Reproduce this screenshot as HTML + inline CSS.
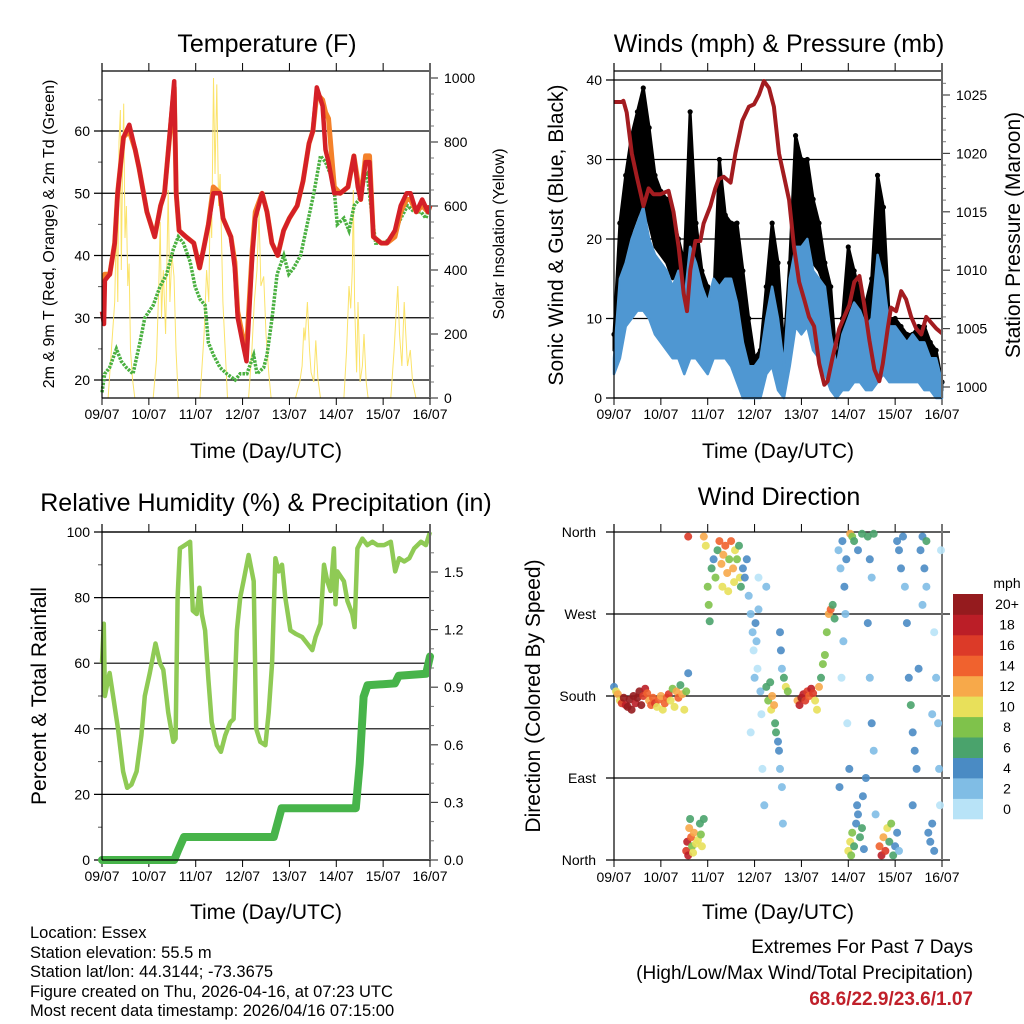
<!DOCTYPE html>
<html><head><meta charset="utf-8"><style>
body{margin:0;background:#fff;width:1024px;height:1024px;overflow:hidden}
svg{display:block;font-family:"Liberation Sans",sans-serif}
.nar{font-family:"Liberation Sans Narrow","Liberation Sans",sans-serif}
</style></head><body>
<svg id="s" width="1024" height="1024" viewBox="0 0 1024 1024">
<g class="nar" font-size="16.5" fill="#000">
<text x="30" y="938">Location: Essex</text>
<text x="30" y="958">Station elevation: 55.5 m</text>
<text x="30" y="977">Station lat/lon: 44.3144; -73.3675</text>
<text x="30" y="997">Figure created on Thu, 2026-04-16, at 07:23 UTC</text>
<text x="30" y="1016">Most recent data timestamp: 2026/04/16 07:15:00</text>
</g>
<g class="nar" text-anchor="end">
<text x="973" y="953" font-size="19">Extremes For Past 7 Days</text>
<text x="973" y="979" font-size="19">(High/Low/Max Wind/Total Precipitation)</text>
<text x="973" y="1005" font-size="19" font-weight="bold" fill="#c0202a">68.6/22.9/23.6/1.07</text>
</g>
</svg>
<script>
// ---------- Temperature panel data ----------
const redHours=[0,1,1.5,4,6.5,8,11,14,17,19,23,27,30,32,34,37,38,39.5,43,47,50,52,54.5,57,60.5,62,66,68,69.5,72,74,77,78.5,82,84.5,87,90,93,96,100,103,106,108,110,113,114.5,116,119,122,126,129,131,132.5,135,137,139,143,146,150,153,156,158,161,164,167,168];
const redTemps=[31,29,36,37,42,50,59,61,57,54,47,43,48,50,57,68,50,44,43,42,38,41,45,50,50,46,43,38,30,26,23,40,46,50,47,42,40,44,46,48,52,58,60,67,64,57,55,50,50,51,56,51,49,55,55,43,42,42,44,48,50,50,47,49,47,48];
const orangeTemps=[36,36,37,37,42,50,59,60,57,54,47,43,48,50,57,67,50,44,43,42,38,41,45,51,50,46,43,39,31,27,25,41,47,50,47,42,40,44,46,48,52,58,60,66,65,63,62,51,50,51,56,52,49,56,56,43,42,42,43,47,49,49,47,48,47,48];
const dewHours=[0,1.4,3.9,7.4,9.9,12.5,15.9,19.4,21.9,26.2,29.7,33.1,36.5,39.1,41.7,45.1,47.7,50.2,52.8,54.5,57.1,60.5,63.9,68.2,70.8,74.2,77.7,79.4,82.8,84.5,87.1,89.7,93.1,95.7,98.2,101.7,105.1,108.5,111.9,114.5,117.1,118.8,120.5,123.9,126.5,129.1,131.7,134.2,135.9,137.7,140.2,144.5,148.8,153.1,156.5,159.9,163.4,165.9,168];
const dewTemps=[18,21,22,25,23,22,21,26,30,32,35,37,41,43,42,39,35,33,32,26,24,22,21,20,21,21,24,21,22,24,30,37,40,37,38,40,45,50,56,55,53,51,45,46,44,48,49,52,53,48,42,42,43,46,48,47,47,46,48];
const solarHours=[0,3.1,4.8,6.5,7.4,8.1,8.7,9.4,9.9,10.5,11.1,11.8,12.5,13.2,13.9,14.6,15.6,16.8,26.2,27.9,29.1,29.8,30.5,31.4,32.6,33.9,34.8,35.8,36.9,37.9,39.1,50.2,52.3,53.6,54.7,55.4,56.2,57.1,57.9,58.8,59.7,60.5,61.9,63.1,64.3,75.1,76.8,78.0,79.4,80.4,81.4,82.8,84.0,85.4,86.6,99.1,101.3,102.5,103.4,104.0,105.2,106.3,107.1,108.5,109.5,110.6,111.9,123.9,125.3,126.5,127.4,128.2,128.7,129.4,130.4,131.1,132.2,133.4,134.2,135.3,136.3,147.9,149.6,150.8,151.5,152.4,153.6,154.8,155.6,156.5,157.9,159.1,160.8,168];
const solarValues=[0,0,150,300,550,300,800,900,400,700,920,500,600,350,420,150,60,0,0,120,350,550,250,400,200,650,300,450,380,150,0,0,200,400,300,620,500,1000,700,980,600,700,300,150,0,0,150,300,400,580,350,380,200,80,0,0,50,100,220,180,300,150,80,50,180,60,0,0,150,350,280,400,650,300,80,300,50,100,200,50,0,0,150,280,350,200,100,300,200,100,150,50,0,0];
const tempTicks=[20,30,40,50,60];
const solarTicks=[0,200,400,600,800,1000];
const dayLabels=["09/07","10/07","11/07","12/07","13/07","14/07","15/07","16/07"];
// ---------- Wind panel data ----------
const windHours=[0,3,6,9,12,15,18,21,24,27,30,33,36,39,42,45,48,51,54,57,60,63,66,69,72,75,78,81,84,87,90,93,96,99,102,105,108,111,114,117,120,123,126,129,132,135,138,141,144,147,150,153,156,159,162,165,168];
const windHigh=[5,15,17,20,22,24,20,18,17,16,14,16,12,19,17,14,12,15,14,15,15,12,7,4,4,5,10,14,10,4,15,19,19,20,16,15,14,8,4,8,10,12,11,9,10,18,15,9,9,8,7,8,7,7,5,5,2];
const windLow=[3,5,9,10,11,11,10,8,7,6,5,5,3,5,5,4,3,5,5,5,4,2,0,0,0,0,3,4,1,0,4,9,8,9,6,5,3,1,0,1,1,2,2,1,1,2,3,2,2,2,2,2,2,1,1,0,0];
const gustHigh=[8,22,28,33,36,39,34,28,26,25,23,20,17,36,22,16,14,12,30,23,22,22,16,10,5,6,14,22,17,6,17,33,30,30,25,22,17,14,4,10,19,16,13,12,15,28,24,10,10,9,8,8,9,9,7,6,2];
const gustLow=[6,14,18,21,23,24,22,19,18,17,15,16,14,18,16,14,12,14,14,15,15,12,6,3,3,4,9,14,11,4,14,19,19,20,17,16,14,8,3,6,9,11,10,9,9,17,15,9,8,7,6,7,6,6,5,4,1];
const presHours=[0,3.9,4.8,6.5,9.1,11.7,15.1,17.7,20.2,23.7,27.9,30.5,33.1,35.7,37.4,39.1,41.7,44.2,45.9,49.4,51.9,53.7,56.2,59.7,62.2,65.7,69.1,71.7,74.2,76.8,79.4,81.9,84.5,87.1,89.7,92.2,94.8,97.4,99.9,102.5,105.1,107.7,109.4,111.9,115.4,117.9,120.5,123.1,125.7,128.2,130.8,133.4,135.9,137.7,140.2,141.9,144.5,147.1,149.6,152.2,154.8,157.4,159.9,162.5,165.1,168];
const presValues=[1024.4,1024.4,1024.5,1023.5,1020,1018,1015.5,1017,1016.5,1016.5,1016.8,1015,1012,1008,1006.5,1010,1012.5,1012.5,1014,1015.5,1017,1017.8,1018,1017.5,1020,1022.8,1024,1024.2,1025,1026.2,1025.6,1024,1020,1018,1016,1012,1009,1007.5,1006,1005.2,1002,1000.2,1000.5,1002.5,1005,1006,1007,1009,1009.5,1007,1004,1001.5,1000.5,1002,1005,1006.8,1006.5,1008.2,1007.5,1006,1005,1004.5,1006,1005.5,1005,1004.6];
const windTicks=[0,10,20,30,40];
const presTicks=[1000,1005,1010,1015,1020,1025];
// ---------- RH panel data ----------
const rhHours=[0,0.9,1.5,3.1,3.9,5.7,8.2,10.8,12.9,15.1,17.7,20.2,21.9,24.5,27.4,29.7,31.4,33.9,36.5,37.7,38.7,39.9,42.5,45.1,46.5,48.5,49.9,51.1,52.8,54.5,56.2,58.8,60.9,63.1,65.7,67.4,69.1,70.8,72.5,75.1,77.7,79.0,81.1,83.7,85.4,87.1,88.8,90.5,92.2,93.9,96.5,99.1,102.5,105.1,107.7,109.4,111.9,113.7,115.4,117.1,118.8,119.6,120.5,123.9,125.7,128.2,129.4,130.8,133.4,135.9,138.5,141.1,144.5,147.9,150.2,152.2,154.8,157.4,159.9,163.4,165.9,168];
const rhValues=[60,72,50,55,57,50,40,27,22,23,27,38,50,57,66,60,58,45,36,37,80,95,96,97,76,75,83,75,70,55,42,35,33,38,42,43,70,80,85,93,85,40,36,35,45,60,92,88,90,80,70,69,68,66,64,68,72,90,85,82,95,78,88,85,79,75,71,95,98,96,97,96,96,97,88,92,91,92,95,97,96,100];
const rainHours=[0,37,39,42,88,92,130,132,134,136,150,152,166,168];
const rainValues=[0,0,0.05,0.12,0.12,0.27,0.27,0.5,0.85,0.91,0.92,0.96,0.97,1.06];
const rhTicks=[0,20,40,60,80,100];
const rainTicks=[0,0.3,0.6,0.9,1.2,1.5];
// ---------- Wind direction panel data ----------
const dirHours=[0,1,2,3,4,5,6,7,8,9,10,11,12,13,14,15,16,17,18,19,20,21,22,23,24,25,26,27,28,29,30,31,32,33,34,35,36,37,38,
37,37.5,38,38.5,39,39.5,40,40.5,41,42,43,44,45,46,44.5,38,
46,47,48,48.5,49,50,51,52,53,54,55,55.5,56,57,58,58.5,59,60,61,61.5,62,63,64,64.5,65,66,67,68,69,
70,71,71.5,72,72.5,73,73.5,74,75,75.5,76,77,78,70,74,
78,79,80,80.5,81,82,82.5,83,84,84.5,85,86,86.5,87,88,89,85,85.5,86,
94,95,96,97,98,99,100,101,102,103,104,105,106,107,108,109,110,111,112,113,
120,121,121.5,122,123,124,124.5,125,126,127,127.5,128,
115,116,117,118,119,118.5,117.5,116.5,119.5,120.5,115.5,
121,122,123,125,127,130,133,131,132,130,131,132,133,129,134,
136,137,138,139,140,141,142,143,144,145,146,
145,146,147,148,149,150,151,152,153,154,155,153,156,157,158,159,160,161,162,163,164,160,164,165,166,166.5,167,167.5,163,158];
const dirDegrees=[190,185,182,175,172,178,170,168,176,165,180,172,178,185,170,180,188,183,175,170,178,172,168,176,180,165,172,178,182,175,188,168,185,178,192,182,165,185,205,
10,20,5,35,45,25,15,8,30,18,22,40,15,45,28,355,
355,345,300,280,262,320,330,310,340,350,325,300,335,345,315,295,330,350,320,305,340,330,345,310,300,320,310,330,290,
270,250,230,200,260,240,210,275,185,160,100,60,300,140,310,
190,175,195,165,180,170,150,140,130,120,100,80,40,200,190,185,250,230,210,
175,170,178,182,175,185,180,188,183,175,165,190,200,215,225,250,270,275,280,265,
10,20,5,30,15,40,60,50,25,35,70,12,
340,320,350,300,330,270,240,200,150,100,80,
358,355,350,340,358,355,358,330,310,260,200,150,120,90,50,
15,5,25,10,35,20,40,5,15,30,10,
350,340,320,355,300,260,200,170,140,120,100,60,210,340,355,320,350,30,20,40,10,300,250,200,150,100,60,340,160,280];
const dirSpeeds=[4,10,12,10,16,20,18,20,20,20,20,18,20,20,20,16,18,14,12,14,14,16,10,14,12,10,14,14,16,10,8,10,12,14,6,12,10,8,4,
16,18,18,12,6,14,8,10,12,10,10,6,10,6,8,16,
12,10,8,8,6,6,4,8,6,14,12,10,12,14,12,10,8,14,12,10,10,8,6,10,6,4,4,4,2,
2,2,0,2,4,2,0,2,2,0,0,2,2,0,0,
6,8,6,10,12,12,6,6,4,4,2,2,2,6,10,8,4,4,2,
12,18,20,18,16,16,14,18,16,10,10,12,6,8,8,8,12,14,6,6,
10,10,8,8,6,4,4,4,6,6,4,4,
2,2,4,4,4,2,2,0,0,4,4,
12,8,6,4,6,6,6,4,2,4,2,4,2,4,2,
14,18,12,16,10,6,8,6,4,4,2,
4,4,4,4,2,4,4,6,4,4,4,4,4,4,4,4,6,4,4,4,4,2,0,2,2,2,0,0,2,2];
const dirTicks=["North","East","South","West","North"];
const speedLabels=["0","2","4","6","8","10","12","14","16","18","20+"];
const speedColors=["#b8e3f7","#80bde5","#4a8bc4","#4aa36c","#7fc24b","#e8e05a","#f7a94a","#f0622e","#dc3a28","#bb1e27","#951b1e"];

const svg=document.getElementById('s');
const NS='http://www.w3.org/2000/svg';
function mk(tag,attrs,parent){const e=document.createElementNS(NS,tag);for(const k in attrs)e.setAttribute(k,attrs[k]);(parent||svg).appendChild(e);return e;}
function txt(s,attrs,parent){const e=mk('text',attrs,parent);e.textContent=s;return e;}
function xScale(x0){return h=>x0+h/168*328;}
function pathOf(xs,ys,fx,fy){let d='';for(let i=0;i<xs.length;i++)d+=(i?'L':'M')+fx(xs[i]).toFixed(1)+','+fy(ys[i]).toFixed(1);return d;}

function frame(name,x0,yTop,yBot,leftTicks,fy,leftLabels,minorLeft,rightTicks,fr,rightLabels,minorRight){
  const g=mk('g',{});
  
  
  const x1=x0+328;
  leftTicks.forEach((v,i)=>{
    const y=fy(v);
    const l=mk('line',{x1:x0-8,x2:x1,y1:y,y2:y,stroke:'#000','stroke-width':1.2},g);
    
    
    const t=txt(leftLabels[i],{x:x0-12,y:y+5,'font-size':14,'text-anchor':'end'},g);
    
    
  });
  minorLeft.forEach(v=>{const y=fy(v);const l=mk('line',{x1:x0-4,x2:x0,y1:y,y2:y,stroke:'#555'},g);
    
    });
  if(rightTicks){
    rightTicks.forEach((v,i)=>{const y=fr(v);
      mk('line',{x1:x1,x2:x1+8,y1:y,y2:y,stroke:'#444','stroke-width':1.2},g);
      const t=txt(rightLabels[i],{x:x1+14,y:y+5,'font-size':14},g);
      
      });
    minorRight.forEach(v=>{const y=fr(v);mk('line',{x1:x1,x2:x1+4,y1:y,y2:y,stroke:'#777'},g);});
  }
  for(let d=0;d<=7;d++){
    const x=x0+d*328/7;
    mk('line',{x1:x,x2:x,y1:yTop-8,y2:yTop,stroke:'#000'},g);
    mk('line',{x1:x,x2:x,y1:yBot,y2:yBot+7,stroke:'#000'},g);
    const t=txt(dayLabels[d],{x:x,y:yBot+21,'font-size':14,'text-anchor':'middle'},g);
    
    
  }
  return g;
}
function spines(x0,yTop,yBot,topLine){
  const x1=x0+328;
  if(topLine)mk('line',{x1:x0,x2:x1,y1:yTop,y2:yTop,stroke:'#000','stroke-width':1.2});
  mk('line',{x1:x0,x2:x1,y1:yBot,y2:yBot,stroke:'#000','stroke-width':1.2});
  mk('line',{x1:x0,x2:x0,y1:yTop-8,y2:yBot,stroke:'#000','stroke-width':1.2});
  mk('line',{x1:x1,x2:x1,y1:yTop-8,y2:yBot,stroke:'#666','stroke-width':2});
}
function label(s,x,y,size,rot,name){
  const a={x:x,y:y,'font-size':size,'text-anchor':'middle'};
  if(rot)a.transform='rotate(-90 '+x+' '+y+')';
  const t=txt(s,a);
  
  
}

// ===== Panel 1: Temperature =====
(function(){
  const fx=xScale(102),fy=v=>380-(v-20)*6.225,fs=v=>398-v*0.32;
  const minL=[];for(let v=20;v<=65;v+=5)if(v%10)minL.push(v);
  const minR=[];for(let v=50;v<=1000;v+=50)if(v%200)minR.push(v);
  frame('temperature',102,71,398,tempTicks,fy,tempTicks.map(String),minL,solarTicks,fs,solarTicks.map(String),minR);
  const sol=mk('path',{d:pathOf(solarHours,solarValues,fx,fs),fill:'none',stroke:'#fbe36a','stroke-width':1});
  
  
  const dew=mk('path',{d:pathOf(dewHours,dewTemps,fx,fy),fill:'none',stroke:'#4ab040','stroke-width':3.5,'stroke-dasharray':'2.5 1.2'});
  
  
  const or=mk('path',{d:pathOf(redHours,orangeTemps,fx,fy),fill:'none',stroke:'#f4812a','stroke-width':5,'stroke-linejoin':'round'});
  
  
  const rd=mk('path',{d:pathOf(redHours,redTemps,fx,fy),fill:'none',stroke:'#d42027','stroke-width':4.5,'stroke-linejoin':'round'});
  
  
  spines(102,71,398,true);
  label('Temperature (F)',267,52,25,false,'temperature-title');
  label('Time (Day/UTC)',266,458,21,false,'temperature-x-title');
  label('2m & 9m T (Red, Orange) & 2m Td (Green)',54,234,16,true,'temperature-y-title');
  label('Solar Insolation (Yellow)',504,234,16,true,'solar-y-title');
})();

// ===== Panel 2: Winds & Pressure =====
(function(){
  const fx=xScale(614),fy=v=>398-v*7.95,fp=v=>387-(v-1000)*11.68;
  const minR=[];for(let v=1000;v<=1026;v++)if(v%5)minR.push(v);
  frame('winds',614,71,398,windTicks,fy,windTicks.map(String),[],presTicks,fp,presTicks.map(String),minR);
  let d='';
  for(let i=0;i<windHours.length;i++)d+=(i?'L':'M')+fx(windHours[i]).toFixed(1)+','+fy(gustHigh[i]).toFixed(1);
  for(let i=windHours.length-1;i>=0;i--)d+='L'+fx(windHours[i]).toFixed(1)+','+fy(gustLow[i]).toFixed(1);
  const gb=mk('path',{d:d+'Z',fill:'#000',stroke:'#000','stroke-width':3,'stroke-linejoin':'round'});
  
  
  for(let i=0;i<windHours.length;i++){
    const c=mk('circle',{cx:fx(windHours[i]),cy:fy(gustHigh[i]),r:2.6,fill:'#000'});
    
    
  }
  let b='';
  for(let i=0;i<windHours.length;i++)b+=(i?'L':'M')+fx(windHours[i]).toFixed(1)+','+fy(windHigh[i]).toFixed(1);
  for(let i=windHours.length-1;i>=0;i--)b+='L'+fx(windHours[i]).toFixed(1)+','+fy(windLow[i]).toFixed(1);
  const wb=mk('path',{d:b+'Z',fill:'#4f97d2',stroke:'#4f97d2','stroke-width':2.5,'stroke-linejoin':'round'});
  
  
  const pl=mk('path',{d:pathOf(presHours,presValues,fx,fp),fill:'none',stroke:'#a31c20','stroke-width':4,'stroke-linejoin':'round'});
  
  
  spines(614,71,398,true);
  label('Winds (mph) & Pressure (mb)',779,52,25,false,'winds-title');
  label('Time (Day/UTC)',778,458,21,false,'winds-x-title');
  label('Sonic Wind & Gust (Blue, Black)',563,235,21,true,'wind-y-title');
  label('Station Pressure (Maroon)',1020,235,21,true,'pressure-y-title');
})();

// ===== Panel 3: RH & Precip =====
(function(){
  const fx=xScale(102),fy=v=>860-v*3.28,fr=v=>860-v*192;
  const minL=[10,30,50,70,90];
  const minR=[];for(let v=1;v<=16;v++)if(v%3)minR.push(v/10);
  frame('humidity',102,532,860,rhTicks,fy,rhTicks.map(String),minL,rainTicks,fr,rainTicks.map(v=>v.toFixed(1)),minR);
  const rh=mk('path',{d:pathOf(rhHours,rhValues,fx,fy),fill:'none',stroke:'#8fca55','stroke-width':4.5,'stroke-linejoin':'round'});
  
  
  const rn=mk('path',{d:pathOf(rainHours,rainValues,fx,fr),fill:'none',stroke:'#47b44a','stroke-width':8,'stroke-linejoin':'round','stroke-linecap':'round'});
  
  
  spines(102,532,860,true);
  label('Relative Humidity (%) & Precipitation (in)',266,511,25,false,'humidity-title');
  label('Time (Day/UTC)',266,919,21,false,'humidity-x-title');
  label('Percent & Total Rainfall',46,696,21,true,'humidity-y-title');
})();

// ===== Panel 4: Wind Direction =====
(function(){
  const fx=xScale(614),fy=d=>860-d*0.9111;
  const x0=614,x1=942;
  const dirVals=[0,90,180,270,360];
  dirVals.forEach((v,i)=>{const y=fy(v);
    const l=mk('line',{x1:x0-8,x2:x1+8,y1:y,y2:y,stroke:'#000','stroke-width':1.2});
    
    
    const t=txt(dirTicks[i],{x:596,y:y+5,'font-size':14,'text-anchor':'end'});
    
    });
  for(let d=0;d<=7;d++){const x=x0+d*328/7;
    mk('line',{x1:x,x2:x,y1:524,y2:532,stroke:'#000'});
    mk('line',{x1:x,x2:x,y1:860,y2:867,stroke:'#000'});
    const t=txt(dayLabels[d],{x:x,y:882,'font-size':14,'text-anchor':'middle'});
    
    }
  mk('line',{x1:x0,x2:x0,y1:524,y2:860,stroke:'#000','stroke-width':1.2});
  mk('line',{x1:x1,x2:x1,y1:524,y2:860,stroke:'#777','stroke-width':2});
  for(let i=0;i<dirHours.length;i++){
    const bin=Math.min(10,Math.floor(dirSpeeds[i]/2));
    const c=mk('circle',{cx:fx(dirHours[i]).toFixed(1),cy:fy(dirDegrees[i]).toFixed(1),r:4,fill:speedColors[bin],'fill-opacity':0.9});
    
    
  }
  const lg=mk('g',{});
  
  
  const bh=225/11;
  speedLabels.forEach((s,i)=>{
    const y=819-(i+1)*bh;
    const r=mk('rect',{x:953,y:y.toFixed(1),width:30,height:(bh+0.3).toFixed(1),fill:speedColors[i]},lg);
    
    
    const t=txt(s,{x:1007,y:(y+bh/2+5).toFixed(1),'font-size':14,'text-anchor':'middle'},lg);
    
    
  });
  const mp=txt('mph',{x:1007,y:588,'font-size':14,'text-anchor':'middle'},lg);
  
  
  label('Wind Direction',779,505,25,false,'direction-title');
  label('Time (Day/UTC)',778,919,21,false,'direction-x-title');
  label('Direction (Colored By Speed)',540,696,21,true,'direction-y-title');
})();
</script>
</body></html>
